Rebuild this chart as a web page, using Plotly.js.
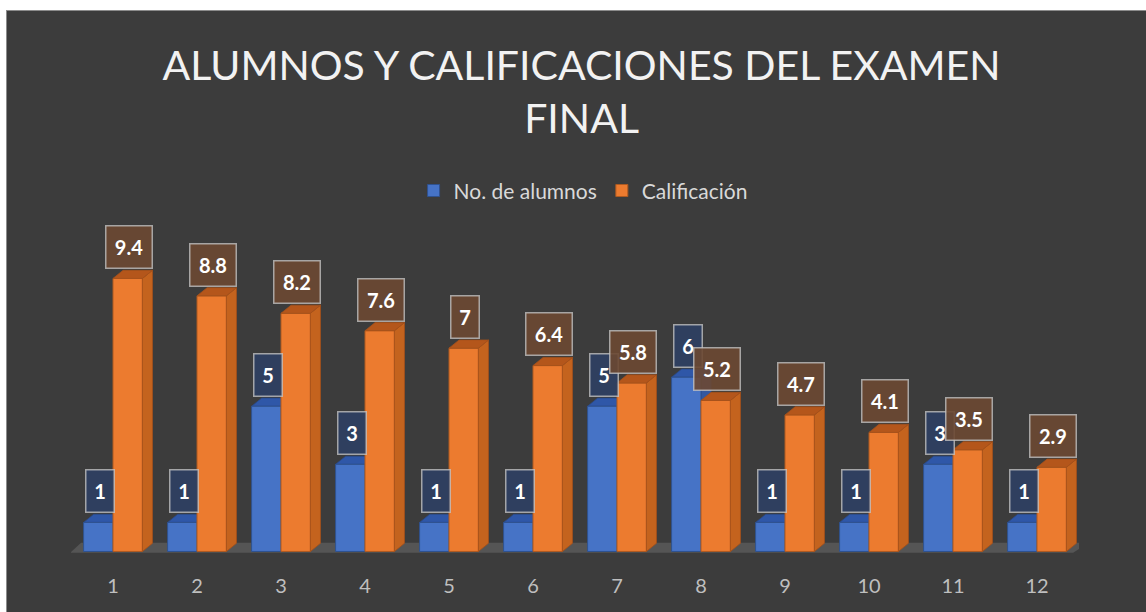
<!DOCTYPE html>
<html>
<head>
<meta charset="utf-8">
<script src="https://cdn.plot.ly/plotly-3.0.1.min.js"></script>
<style>
  html, body { margin: 0; padding: 0; background: #ffffff; }
  #frame { position: absolute; left: 6px; top: 10px; width: 1140px; height: 602px;
           border-left: 1px solid #8c8c8c; border-top: 1px solid #8c8c8c; background: #3c3c3c; }
  #chart { width: 1140px; height: 602px; }
</style>
</head>
<body>
<div id="frame"><div id="chart"></div></div>
<script>
// ---- data ----
const categories = [1, 2, 3, 4, 5, 6, 7, 8, 9, 10, 11, 12];
const tickLabels = ['1', '2', '3', '4', '5', '6', '7', '8', '9', '10', '11', '12'];
const alumnos = [1, 1, 5, 3, 1, 1, 5, 6, 1, 1, 3, 1];
const calificacion = [9.4, 8.8, 8.2, 7.6, 7, 6.4, 5.8, 5.2, 4.7, 4.1, 3.5, 2.9];
const seriesNames = ['No. de alumnos', 'Calificación'];
const chartTitle = 'ALUMNOS Y CALIFICACIONES DEL EXAMEN<br>FINAL';

// ---- styling / 3D geometry (category units / value units) ----
const W = 0.35;    // front face width
const DX = 0.12;   // depth offset in x
const DY = 0.28;   // depth offset in y
const FONT = 'Lato, "Open Sans", sans-serif';

function poly(vals, pts) {
  const xs = [], ys = [];
  categories.forEach((c, k) => {
    const v = vals[k];
    pts(c, v).forEach(p => { xs.push(p[0]); ys.push(p[1]); });
    xs.push(null); ys.push(null);
  });
  return {xs, ys};
}
function face(geo, color, line, axes) {
  return {
    type: 'scatter', mode: 'lines', x: geo.xs, y: geo.ys, fill: 'toself',
    fillcolor: color, line: {color: line, width: 0.8}, hoverinfo: 'skip',
    showlegend: false, xaxis: axes[0], yaxis: axes[1], connectgaps: false
  };
}

const xmin = categories[0] - 0.5, xmax = categories[categories.length - 1] + 0.5;
const floorTrace = {
  type: 'scatter', mode: 'lines',
  x: [xmin - 0.01, xmax - 0.07, xmax + 0.12, xmin + 0.12, xmin - 0.01],
  y: [-0.04, -0.04, 0.3, 0.3, -0.04],
  fill: 'toself', fillcolor: '#555555', line: {width: 0}, hoverinfo: 'skip',
  showlegend: false, xaxis: 'x', yaxis: 'y'
};

const blueSide = face(poly(alumnos, (c, v) => [[c, 0], [c + DX, DY], [c + DX, v + DY], [c, v], [c, 0]]),
  '#3458a0', '#2a4a8a', ['x', 'y']);
const blueTop = face(poly(alumnos, (c, v) => [[c - W, v], [c - W + DX, v + DY], [c + DX, v + DY], [c, v], [c - W, v]]),
  '#2f57a8', '#2a4a8a', ['x', 'y']);
const orangeSide = face(poly(calificacion, (c, v) => [[c + W, 0], [c + W + DX, DY], [c + W + DX, v + DY], [c + W, v], [c + W, 0]]),
  '#c4631e', '#a4501a', ['x2', 'y2']);
const orangeTop = face(poly(calificacion, (c, v) => [[c, v], [c + DX, v + DY], [c + W + DX, v + DY], [c + W, v], [c, v]]),
  '#b4561b', '#a4501a', ['x2', 'y2']);

const blueBars = {
  type: 'bar', name: seriesNames[0], x: categories, y: alumnos, width: W, offset: -W,
  marker: {color: '#4673c6', line: {color: '#2f528f', width: 1}},
  xaxis: 'x2', yaxis: 'y2', hoverinfo: 'x+y'
};
const orangeBars = {
  type: 'bar', name: seriesNames[1], x: categories, y: calificacion, width: W, offset: 0,
  marker: {color: '#ec7b2f', line: {color: '#ae5a21', width: 1}},
  xaxis: 'x2', yaxis: 'y2', hoverinfo: 'x+y'
};

function label(x, v, bg) {
  const t = String(v);
  return {
    x: x, y: v + DY, xref: 'x', yref: 'y', yanchor: 'bottom', xanchor: 'center', yshift: 1,
    text: '<b>' + t + '</b>', showarrow: false,
    font: {family: FONT, size: 20, color: '#ffffff'},
    bgcolor: bg, bordercolor: 'rgba(200,200,200,0.75)', borderwidth: 1.5, borderpad: 5,
    height: 31, width: 8 + 9 * t.length
  };
}
const annotations = [];
categories.forEach((c, k) => annotations.push(label(c - W / 2 + 0.015, alumnos[k], 'rgba(46,64,100,0.88)')));
categories.forEach((c, k) => annotations.push(label(c + W / 2 + 0.015, calificacion[k], 'rgba(108,72,50,0.9)')));

const yr = [-0.5, 10];
const layout = {
  width: 1140, height: 602,
  paper_bgcolor: '#3c3c3c', plot_bgcolor: 'rgba(0,0,0,0)',
  margin: {l: 64, r: 68, t: 250, b: 47},
  title: {text: chartTitle, x: 0.504, xanchor: 'center', y: 0.886, yanchor: 'top',
          font: {family: FONT, size: 41, color: '#f2f2f2'}},
  showlegend: true,
  legend: {orientation: 'h', x: 0.508, xanchor: 'center', y: 1.23, yanchor: 'middle',
           font: {family: FONT, size: 21, color: '#d9d9d9'}, bgcolor: 'rgba(0,0,0,0)', traceorder: 'normal'},
  barmode: 'overlay',
  xaxis: {range: [xmin, xmax], tickvals: categories, ticktext: tickLabels, showgrid: false,
          zeroline: false, showline: false, ticks: '', ticklabelstandoff: 6,
          tickfont: {family: FONT, size: 20, color: '#bfbfbf'}, fixedrange: true},
  yaxis: {range: yr, visible: false, showgrid: false, zeroline: false, fixedrange: true},
  xaxis2: {range: [xmin, xmax], overlaying: 'x', visible: false, fixedrange: true},
  yaxis2: {range: yr, overlaying: 'y', visible: false, fixedrange: true},
  annotations: annotations
};

Plotly.newPlot('chart', [floorTrace, blueSide, blueTop, blueBars, orangeBars, orangeSide, orangeTop], layout,
  {displayModeBar: false, staticPlot: true});
</script>
</body>
</html>
